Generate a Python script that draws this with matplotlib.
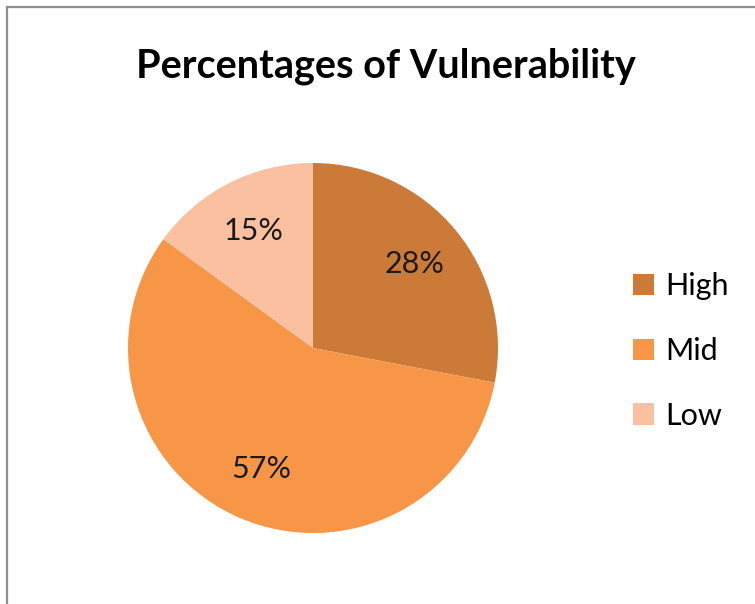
import matplotlib
matplotlib.use("Agg")
import matplotlib.pyplot as plt
from matplotlib.lines import Line2D
from matplotlib.patches import Patch

labels = ["High", "Mid", "Low"]
values = [28, 57, 15]
colors = ["#CB7A38", "#F79646", "#FAC0A0"]
title = "Percentages of Vulnerability"

plt.rcParams['font.family'] = ['Lato', 'DejaVu Sans']

W, H = 755, 604
fig = plt.figure(figsize=(W / 100, H / 100), dpi=100)
fig.patch.set_facecolor("white")

# frame lines (left and top)
fig.add_artist(Line2D([7 / W, 7 / W], [0, 1 - 7 / H], color="#8f8f8f", lw=1.6, transform=fig.transFigure))
fig.add_artist(Line2D([7 / W, 1], [1 - 7 / H, 1 - 7 / H], color="#8f8f8f", lw=1.6, transform=fig.transFigure))

r = 185
cx, cy = 313, 348
ax = fig.add_axes([(cx - r) / W, (H - cy - r) / H, 2 * r / W, 2 * r / H])
wedges, texts, autotexts = ax.pie(values, colors=colors, startangle=90, counterclock=False,
                                  autopct=lambda p: f"{p:.0f}%", pctdistance=0.71,
                                  textprops=dict(fontsize=22, color="#1a1a1a"))
ax.set_aspect("equal")
ax.set_xlim(-1, 1)
ax.set_ylim(-1, 1)
ax.axis("off")

fig.text(386 / W, 1 - 66 / H, title, ha="center", va="center", fontsize=28.5, fontweight="bold", color="black")

handles = [Patch(facecolor=c, edgecolor="none") for c in colors]
leg = fig.legend(handles, labels, loc="center left", bbox_to_anchor=(633 / W, 1 - 351 / H),
                 frameon=False, fontsize=22, handlelength=0.7, handleheight=0.7,
                 handletextpad=0.35, labelspacing=1.2, borderaxespad=0, borderpad=0)

fig.savefig("out.png", dpi=100, facecolor="white")
